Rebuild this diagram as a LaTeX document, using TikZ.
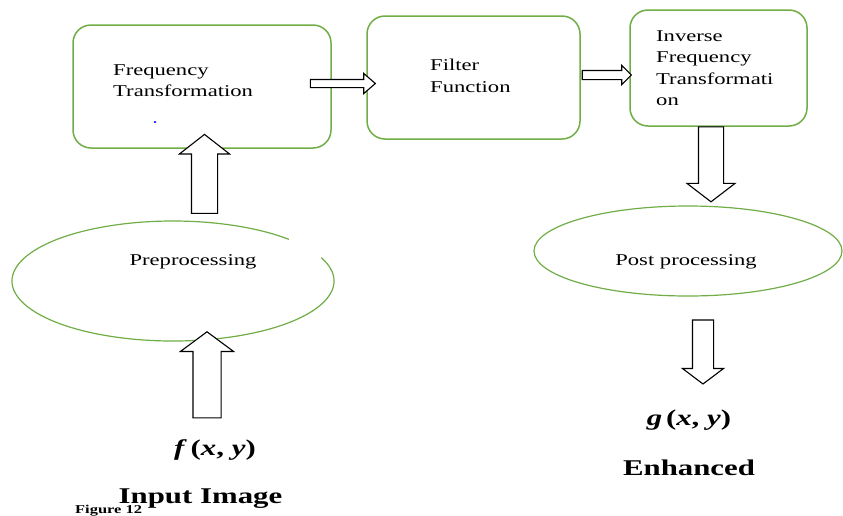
\documentclass[tikz,border=0pt]{standalone}
\usepackage{fontspec}
\setmainfont{Liberation Serif}[FakeStretch=1.37]
\usepackage{xcolor}
\usepackage{tikz}
\usetikzlibrary{shapes,shapes.geometric,shapes.arrows,positioning,calc}
\definecolor{boxgreen}{RGB}{112,173,71}

\begin{document}
\begin{tikzpicture}[x=1pt,y=-1pt,
    stage/.style={draw=boxgreen,line width=1.5pt,rounded corners=18pt,inner sep=0pt},
    oval/.style={ellipse,inner sep=0pt},
    blockarrow/.style n args={3}{single arrow,draw,line width=1.1pt,line join=miter,inner sep=0pt,fill=white,
        text height=#1,text depth=0pt,minimum width=#2,single arrow head extend={(#2-#1)/2},single arrow tip angle=#3},
    txt/.style={font=\fontsize{16.5}{21.5}\selectfont,align=left,inner sep=0pt},
    big/.style={font=\fontsize{22.5}{26}\selectfont\bfseries,inner sep=0pt}]
    \useasboundingbox (0,0) rectangle (843,515);
    % Boxes on top row
    \node[stage,minimum width=258pt,minimum height=123pt] (freq) at (202,86.5) {};
    \node[stage,minimum width=213pt,minimum height=123pt] (filter) at (473.5,77.5) {};
    \node[stage,minimum width=177pt,minimum height=116pt] (inv) at (718.5,68) {};
    \node[txt,anchor=north west] (freqtxt) at (113,64) {Frequency\\Transformation};
    \node[txt,anchor=north west] (filtertxt) at (430,59) {Filter\\Function};
    \node[txt,anchor=north west] (invtxt) at (656,30) {Inverse\\Frequency\\Transformati\\on};
    \node[fill=blue,ellipse,inner sep=0pt,minimum width=3pt,minimum height=2pt] (dot) at (155,122) {};
    % Ellipses
    \node[oval,minimum width=322pt,minimum height=120pt] (pre) at (173,281) {};
    \draw[boxgreen,line width=1.2pt] (pre.center) ++(-23:161 and 60)
        arc[start angle=-23,end angle=316,x radius=161,y radius=60];
    \node[txt,anchor=base] (pretxt) at (193,265) {Preprocessing};
    \node[oval,draw=boxgreen,line width=1.2pt,minimum width=308pt,minimum height=90pt] (post) at (688,251) {};
    \node[txt,anchor=base] (posttxt) at (686,265) {Post processing};
    % Block arrows
    \node[blockarrow={7pt}{19pt}{82},minimum height=65pt] (a1) at (340.5,83.5) {};
    \node[blockarrow={8pt}{18pt}{90},minimum height=49pt] (a2) at (604.5,75) {};
    \node[blockarrow={25pt}{49pt}{104},rotate=90,minimum height=79pt] (a3) at (204.5,179) {};
    \node[blockarrow={27pt}{52pt}{107},rotate=90,minimum height=86pt] (a4) at (207,380) {};
    \node[blockarrow={24pt}{47pt}{105},rotate=-90,minimum height=75pt] (a5) at (711,159.5) {};
    \node[blockarrow={20pt}{40pt}{106},rotate=-90,minimum height=64pt] (a6) at (703,348) {};
    % Input and output labels
    \node[big,anchor=base] (fxy) at (215,455) {\textit{f}\,(\textit{x}, \textit{y})};
    \node[big,anchor=base] (gxy) at (689,425) {\textit{g}\,(\textit{x}, \textit{y})};
    \node[big,anchor=base] (enh) at (689,475) {Enhanced};
    \node[font=\fontsize{12}{13}\selectfont\bfseries,inner sep=0pt,anchor=base west] (fig) at (75,513) {Figure 12};
    \node[big,anchor=base] (input) at (200.5,503) {Input Image};
\end{tikzpicture}
\end{document}
